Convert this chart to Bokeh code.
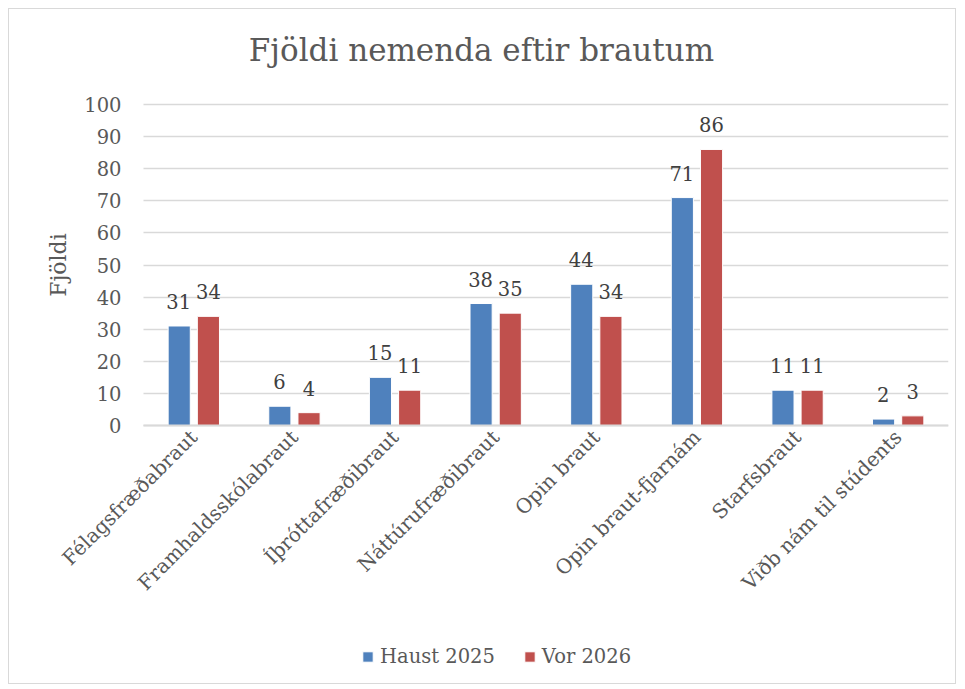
import math
from bokeh.plotting import figure
from bokeh.models import ColumnDataSource, Range1d, Legend, LegendItem, FixedTicker, Title
from bokeh.transform import dodge
from bokeh.core.properties import value
from bokeh.embed import file_html
from bokeh.resources import INLINE

categories = ["Félagsfræðabraut", "Framhaldsskólabraut", "Íþróttafræðibraut",
              "Náttúrufræðibraut", "Opin braut", "Opin braut-fjarnám",
              "Starfsbraut", "Viðb nám til stúdents"]
haust = [31, 6, 15, 38, 44, 71, 11, 2]
vor = [34, 4, 11, 35, 34, 86, 11, 3]
series_names = ["Haust 2025", "Vor 2026"]
colors = ["#4f81bd", "#c0504d"]
yticks = list(range(0, 101, 10))
title_text = "Fjöldi nemenda eftir brautum"
y_label = "Fjöldi"

FONT = "DejaVu Serif"
GREY = "#595959"

idx = list(range(len(categories)))
x_lo, x_hi = idx[0] - 0.5, idx[-1] + 0.5

# layout (pixels): categories take 805 px, value axis 0..100 takes 321 px;
# the frame extends left/above/below so that axis texts and legend fit inside it
CAT_PX = 805 / len(categories)
LEFT_EXTRA = 129
TOP_EXTRA = 12
FRAME_W = 805 + LEFT_EXTRA
FRAME_H = 571 + TOP_EXTRA
PX_PER_UNIT = 321 / (yticks[-1] - yticks[0])
YMAX = yticks[-1] + TOP_EXTRA / PX_PER_UNIT
YMIN = YMAX - FRAME_H / PX_PER_UNIT

src = ColumnDataSource(dict(x=idx, haust=haust, vor=vor,
                            haust_s=[str(v) for v in haust],
                            vor_s=[str(v) for v in vor]))

p = figure(x_range=Range1d(x_lo - LEFT_EXTRA / CAT_PX, x_hi), y_range=Range1d(YMIN, YMAX),
           frame_width=FRAME_W, frame_height=FRAME_H,
           min_border_left=5, min_border_right=7, min_border_top=95 - TOP_EXTRA,
           min_border_bottom=8,
           output_backend="svg", toolbar_location=None)
p.styles = {"border": "1px solid #d9d9d9", "margin": "8px"}

# spacer between title and plot area
p.add_layout(Title(text=" ", text_font_size="1px", standoff=34 - TOP_EXTRA), "above")
p.add_layout(Title(text=title_text, align="center", text_font=FONT, text_font_size="31px",
                   text_font_style="normal", text_color=GREY, standoff=0), "above")

p.outline_line_color = None
p.xgrid.grid_line_color = None
p.ygrid.grid_line_color = "#d9d9d9"
p.ygrid.grid_line_width = 1.5
p.ygrid.cross_bounds = (x_lo, x_hi)

p.yaxis.ticker = FixedTicker(ticks=yticks)
p.yaxis.fixed_location = x_lo
p.yaxis.axis_line_color = None
p.yaxis.major_tick_line_color = None
p.yaxis.minor_tick_line_color = None
p.yaxis.major_tick_out = 0
p.yaxis.major_label_text_font = FONT
p.yaxis.major_label_text_font_size = "19.5px"
p.yaxis.major_label_text_color = GREY
p.yaxis.major_label_standoff = 22

p.xaxis.ticker = FixedTicker(ticks=idx)
p.xaxis.major_label_overrides = {i: c for i, c in zip(idx, categories)}
p.xaxis.fixed_location = 0
p.xaxis.bounds = (x_lo, x_hi)
p.xaxis.axis_line_color = "#d9d9d9"
p.xaxis.axis_line_width = 2
p.xaxis.major_tick_line_color = None
p.xaxis.minor_tick_line_color = None
p.xaxis.major_tick_out = 0
p.xaxis.major_label_orientation = math.pi / 4
p.xaxis.major_label_text_font = FONT
p.xaxis.major_label_text_font_size = "20px"
p.xaxis.major_label_text_color = GREY
p.xaxis.major_label_standoff = 8

# y-axis title
p.text(x=[x_lo], y=[(yticks[0] + yticks[-1]) / 2], text=[y_label], angle=math.pi / 2,
       x_offset=-85, text_align="center", text_baseline="middle",
       text_font=value(FONT), text_font_size=value("22px"), text_color=GREY)

r1 = p.vbar(x=dodge("x", -0.145), top="haust", width=0.22, source=src,
            fill_color=colors[0], line_color="white", line_width=1)
r2 = p.vbar(x=dodge("x", 0.145), top="vor", width=0.22, source=src,
            fill_color=colors[1], line_color="white", line_width=1)

for off, col, txt in [(-0.15, "haust", "haust_s"), (0.145, "vor", "vor_s")]:
    p.text(x=dodge("x", off), y=col, text=txt, source=src,
           text_align="center", text_baseline="bottom", y_offset=-17,
           text_font=value(FONT), text_font_size=value("19.5px"), text_color="#404040")

legend = Legend(items=[LegendItem(label=series_names[0], renderers=[r1]),
                       LegendItem(label=series_names[1], renderers=[r2])],
                orientation="horizontal", location=(347, 7),
                glyph_width=13, glyph_height=13, label_standoff=6, spacing=28,
                label_text_font=FONT, label_text_font_size="19.5px",
                label_text_color=GREY, border_line_color=None,
                background_fill_alpha=0, margin=0, padding=0)
p.add_layout(legend, "center")

open("out.html", "w").write(file_html(p, INLINE))
